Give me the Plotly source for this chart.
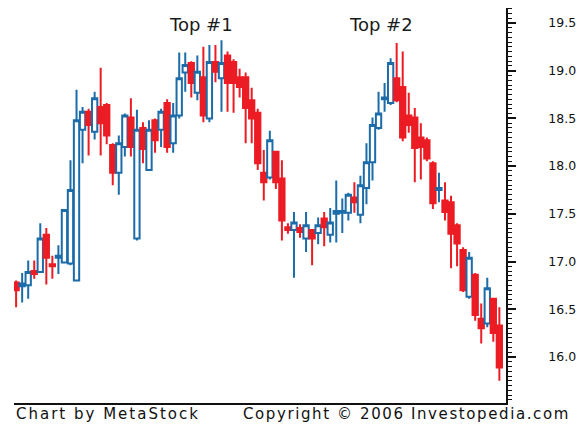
import plotly.graph_objects as go

# ── daily OHLC (one entry per candle, left to right) ──
opens = [
    16.78, 16.74, 16.75, 16.90, 16.89, 17.28, 16.97, 17.04, 16.99, 16.98,
    16.80, 18.38, 18.57, 18.36, 18.62, 18.64, 18.22, 17.93, 18.20, 18.51,
    17.24, 18.40, 17.96, 18.48, 18.38, 18.66, 18.24, 18.53, 18.98, 19.08,
    18.77, 18.93, 18.50, 19.09, 18.92, 19.16, 19.09, 18.93, 18.93, 18.69,
    18.56, 17.93, 17.88, 18.15, 17.87, 17.36, 17.33, 17.35, 17.24, 17.33,
    17.30, 17.45, 17.28, 17.50, 17.51, 17.51, 17.67, 17.49, 17.77, 18.04,
    18.40, 18.70, 18.66, 18.92, 18.83, 18.53, 18.51, 18.30, 18.27, 18.03,
    17.75, 17.64, 17.62, 17.38, 17.12, 16.63, 16.86, 16.40, 16.35, 16.61,
    16.33,
]
highs = [
    16.80, 16.88, 17.01, 17.01, 17.40, 17.35, 17.06, 17.17, 17.55, 18.06,
    18.80, 18.62, 18.60, 18.78, 19.03, 18.66, 18.24, 18.32, 18.55, 18.71,
    18.59, 18.46, 18.48, 18.50, 18.60, 18.70, 18.66, 19.19, 19.19, 19.10,
    19.16, 19.25, 19.27, 19.27, 19.32, 19.20, 19.12, 19.02, 18.98, 18.82,
    18.60, 18.17, 18.37, 18.16, 18.06, 17.40, 17.52, 17.39, 17.52, 17.34,
    17.46, 17.52, 17.56, 17.85, 17.66, 17.72, 17.83, 17.90, 18.24, 18.51,
    18.78, 18.87, 19.13, 19.29, 19.20, 18.77, 18.61, 18.45, 18.30, 18.05,
    17.93, 17.83, 17.69, 17.40, 17.15, 17.10, 16.88, 16.56, 16.83, 16.62,
    16.52,
]
lows = [
    16.52, 16.57, 16.61, 16.82, 16.89, 16.76, 16.82, 16.87, 16.98, 16.96,
    16.79, 18.03, 18.11, 18.28, 18.11, 18.23, 17.80, 17.70, 18.10, 18.10,
    17.22, 18.03, 17.95, 18.14, 18.20, 18.14, 18.14, 18.50, 18.78, 18.72,
    18.69, 18.46, 18.46, 18.88, 18.57, 18.57, 18.56, 18.72, 18.24, 18.24,
    17.96, 17.64, 17.86, 17.76, 17.22, 17.29, 16.83, 17.25, 17.10, 16.96,
    17.18, 17.16, 17.20, 17.20, 17.30, 17.43, 17.51, 17.40, 17.60, 17.85,
    18.38, 18.57, 18.64, 18.67, 18.26, 18.35, 17.83, 17.86, 18.05, 17.55,
    17.62, 17.43, 16.93, 16.95, 16.68, 16.61, 16.38, 16.14, 16.31, 16.16,
    15.75,
]
closes = [
    16.70, 16.77, 16.89, 16.87, 17.24, 17.04, 16.95, 17.06, 17.54, 17.75,
    18.48, 18.57, 18.43, 18.71, 18.45, 18.32, 17.93, 18.24, 18.53, 18.20,
    18.38, 18.18, 18.38, 18.27, 18.57, 18.20, 18.53, 18.92, 19.06, 18.87,
    18.99, 18.53, 19.09, 18.99, 19.08, 18.87, 18.87, 18.83, 18.61, 18.50,
    18.03, 17.83, 18.27, 17.83, 17.43, 17.33, 17.41, 17.31, 17.38, 17.24,
    17.38, 17.36, 17.41, 17.53, 17.53, 17.70, 17.62, 17.80, 18.04, 18.43,
    18.55, 18.72, 19.08, 18.69, 18.30, 18.43, 18.19, 18.20, 18.08, 17.61,
    17.77, 17.52, 17.29, 17.19, 16.70, 17.04, 16.44, 16.30, 16.72, 16.25,
    15.89,
]
days = list(range(len(closes)))

y_ticks = [16.0, 16.5, 17.0, 17.5, 18.0, 18.5, 19.0, 19.5]

BLUE = "#1b6ca8"
RED = "#ec1c24"
FONT = "DejaVu Sans"

fig = go.Figure(go.Candlestick(
    x=days, open=opens, high=highs, low=lows, close=closes,
    increasing=dict(line=dict(color=BLUE, width=2), fillcolor="white"),
    decreasing=dict(line=dict(color=RED, width=2), fillcolor=RED),
    whiskerwidth=0, showlegend=False,
))

# the page body keeps its 8px margin, so the figure is sized to fit inside it
fig.update_layout(
    width=568, height=414,
    paper_bgcolor="white", plot_bgcolor="white",
    margin=dict(l=6, r=62, t=0, b=19),
    boxgap=0.12, boxgroupgap=0,
    font=dict(family=FONT, color="#111111", size=12),
    xaxis=dict(
        range=[-0.35, len(days) + 0.1], rangeslider=dict(visible=False),
        showgrid=False, zeroline=False, showticklabels=False, ticks="",
        showline=True, linecolor="#111111", linewidth=1.5,
    ),
    yaxis=dict(
        side="right", range=[15.517, 19.657],
        tickvals=y_ticks, ticktext=[f"{v:.1f}" for v in y_ticks],
        ticks="outside", ticklen=8, tickwidth=1.5, tickcolor="#111111",
        minor=dict(dtick=0.05, ticks="outside", ticklen=4, tickwidth=1, tickcolor="#111111"),
        showgrid=False, zeroline=False,
        showline=True, linecolor="#111111", linewidth=1.5,
        ticklabelstandoff=30,
        tickfont=dict(family=FONT, size=12.5, color="#111111"),
    ),
)

for label, xp in [("Top #1", 0.38), ("Top #2", 0.746)]:
    fig.add_annotation(
        text=label, xref="paper", yref="paper", x=xp, y=0.957,
        showarrow=False, xanchor="center", yanchor="middle",
        font=dict(family=FONT, size=18, color="#1a1a1a"),
    )

fig.add_annotation(
    text='<span style="letter-spacing:2px">Chart by MetaStock</span>',
    xref="paper", yref="paper", x=0, y=-0.028,
    showarrow=False, xanchor="left", yanchor="middle",
    font=dict(family=FONT, size=15, color="#111111"),
)
fig.add_annotation(
    text='<span style="letter-spacing:1.6px">Copyright © 2006 Investopedia.com</span>',
    xref="paper", yref="paper", x=0.462, y=-0.028,
    showarrow=False, xanchor="left", yanchor="middle",
    font=dict(family=FONT, size=15, color="#111111"),
)

fig.write_html("out.html")
